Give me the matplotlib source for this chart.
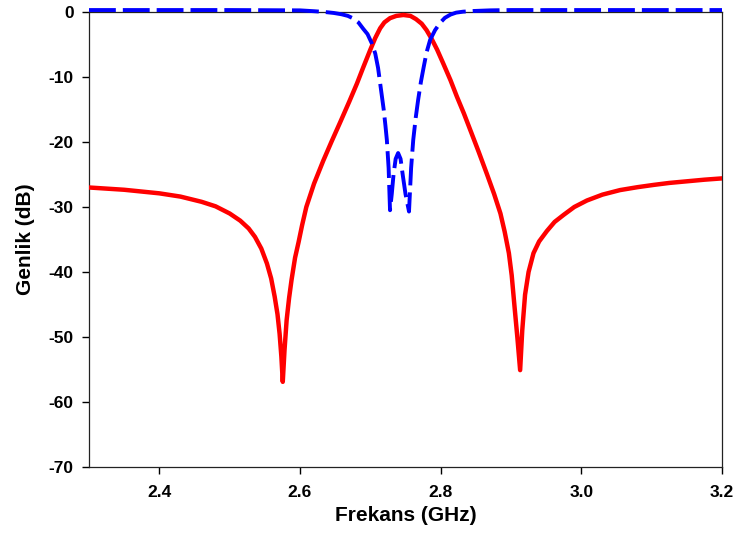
import matplotlib.pyplot as plt

plt.rcParams['font.family'] = ['Liberation Sans', 'DejaVu Sans']
plt.rcParams['font.weight'] = 'bold'
plt.rcParams['axes.unicode_minus'] = False

# transmission (S21), GHz / dB
s21_f = [2.300, 2.350, 2.400, 2.430, 2.460, 2.480, 2.500, 2.515, 2.527, 2.536,
         2.545, 2.553, 2.559, 2.564, 2.568, 2.571, 2.5735, 2.5755, 2.578, 2.581,
         2.5845, 2.588, 2.593, 2.598, 2.603, 2.609, 2.620, 2.633, 2.645, 2.657,
         2.670, 2.681, 2.690, 2.700, 2.707, 2.714, 2.720, 2.728, 2.737, 2.747,
         2.757, 2.765, 2.773, 2.780, 2.787, 2.795, 2.804, 2.814, 2.823, 2.833,
         2.843, 2.854, 2.866, 2.876, 2.885, 2.891, 2.897, 2.901, 2.905, 2.909,
         2.913, 2.916, 2.920, 2.925, 2.932, 2.940, 2.951, 2.962, 2.975, 2.990,
         3.008, 3.030, 3.055, 3.080, 3.103, 3.125, 3.150, 3.175, 3.200]
s21_db = [-27.0, -27.35, -27.9, -28.4, -29.2, -29.9, -31.0, -32.1, -33.3, -34.6,
          -36.4, -38.7, -41.0, -43.8, -46.5, -49.5, -53.0, -56.9, -52.0, -47.4,
          -44.0, -41.2, -37.8, -35.4, -32.8, -30.0, -26.4, -22.9, -19.9, -17.0,
          -13.8, -11.0, -8.5, -5.8, -4.0, -2.5, -1.6, -0.95, -0.6, -0.46,
          -0.6, -1.1, -1.8, -2.8, -4.1, -5.8, -8.0, -10.5, -13.0, -15.6,
          -18.4, -21.5, -25.0, -28.0, -31.0, -33.8, -37.1, -40.5, -45.3, -50.0,
          -55.1, -49.0, -43.5, -40.0, -37.1, -35.3, -33.7, -32.3, -31.2, -30.0,
          -29.0, -28.1, -27.4, -26.95, -26.6, -26.3, -26.05, -25.8, -25.6]

# reflection (S11), GHz / dB
s11_f = [2.300, 2.400, 2.500, 2.600, 2.620, 2.635, 2.648, 2.659, 2.668, 2.676,
         2.683, 2.690, 2.696, 2.702, 2.707, 2.711, 2.714, 2.7165, 2.719, 2.7215,
         2.7235, 2.726, 2.728, 2.7305, 2.733, 2.736, 2.7395, 2.743, 2.746, 2.750,
         2.755, 2.758, 2.761, 2.7645, 2.768, 2.772, 2.776, 2.780, 2.785, 2.792,
         2.799, 2.806, 2.814, 2.822, 2.832, 2.846, 2.870, 2.900, 3.000, 3.100,
         3.200]
s11_db = [0.3, 0.3, 0.3, 0.25, 0.12, 0.0, -0.15, -0.35, -0.6, -1.0,
          -1.6, -2.6, -3.4, -4.8, -6.4, -8.6, -11.0, -13.0, -15.0, -17.5,
          -19.7, -24.0, -30.5, -28.0, -25.0, -22.6, -21.7, -22.6, -25.0, -28.0,
          -30.7, -24.0, -19.7, -16.3, -13.5, -10.7, -8.4, -6.2, -4.3, -2.8,
          -1.7, -0.9, -0.4, -0.1, 0.05, 0.15, 0.25, 0.3, 0.3, 0.3,
          0.3]

x_ticks = [2.4, 2.6, 2.8, 3.0, 3.2]
y_ticks = [0, -10, -20, -30, -40, -50, -60, -70]

fig = plt.figure(figsize=(7.38, 5.4), dpi=100)
ax = fig.add_axes([0.1206, 0.1352, 0.8577, 0.8426])

ax.plot(s21_f, s21_db, color='#ff0000', lw=3.2, solid_joinstyle='round', zorder=3)
ax.plot(s11_f, s11_db, color='#0000ff', lw=2.8, dashes=(6.9, 1.8),
        dash_capstyle='butt', dash_joinstyle='round', clip_on=False, zorder=4)

ax.set_xlim(2.3, 3.2)
ax.set_ylim(-70, 0)
ax.set_xticks(x_ticks)
ax.set_xticklabels([f"{t:.1f}" for t in x_ticks])
ax.set_yticks(y_ticks)

ax.tick_params(axis='both', direction='out', length=5, width=1, labelsize=12.5, pad=6)
ax.tick_params(axis='x', pad=8)
for s in ax.spines.values():
    s.set_linewidth(0.9)
    s.set_color('#222222')

ax.set_xlabel("Frekans (GHz)", fontsize=15, fontweight='bold', labelpad=4)
ax.set_ylabel("Genlik (dB)", fontsize=15, fontweight='bold', labelpad=10)

plt.savefig("out.png", dpi=100)
